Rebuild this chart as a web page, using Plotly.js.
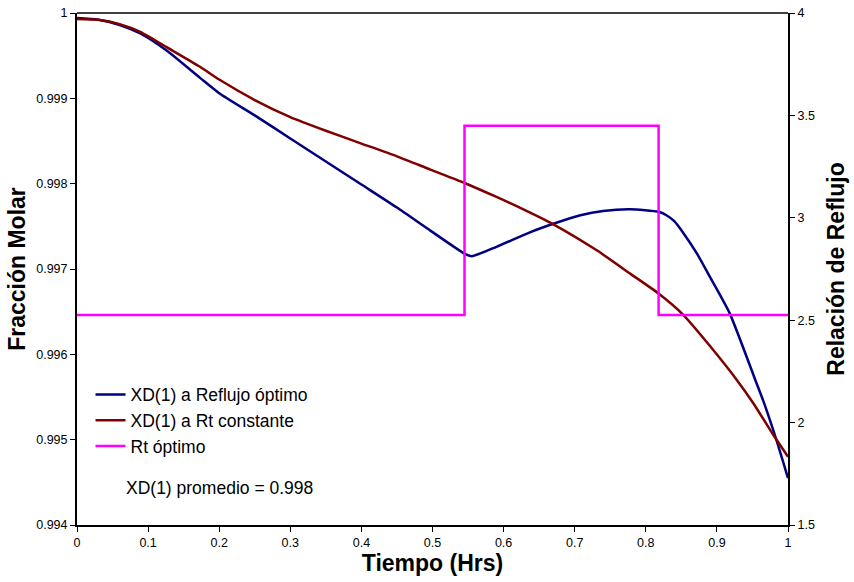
<!DOCTYPE html>
<html>
<head>
<meta charset="utf-8">
<script src="https://cdn.plot.ly/plotly-3.0.1.min.js"></script>
<style>html,body{margin:0;padding:0;background:#fff;}#chart{width:854px;height:582px;}</style>
</head>
<body>
<div id="chart"></div>
<script>
// XD(1) a Reflujo óptimo
var xOpt = [0, 0.03, 0.06, 0.089, 0.126, 0.173, 0.2, 0.25, 0.3, 0.35, 0.4, 0.45, 0.497, 0.545, 0.555, 0.59, 0.637, 0.67, 0.708, 0.74, 0.778, 0.818, 0.829, 0.84, 0.853, 0.872, 0.89, 0.918, 0.954, 0.965, 0.984, 1];
var yOpt = [0.99994, 0.99992, 0.99986, 0.99976, 0.99956, 0.99924, 0.99906, 0.9988, 0.99853, 0.99826, 0.99799, 0.99772, 0.99745, 0.99718, 0.99715, 0.99726, 0.99743, 0.99753, 0.99763, 0.99768, 0.9977, 0.99767, 0.99763, 0.99756, 0.99742, 0.99718, 0.99691, 0.99648, 0.9957, 0.99546, 0.99499, 0.99455];
// XD(1) a Rt constante
var xCons = [0, 0.03, 0.06, 0.089, 0.126, 0.173, 0.2, 0.25, 0.3, 0.35, 0.4, 0.45, 0.497, 0.545, 0.59, 0.63, 0.67, 0.731, 0.778, 0.818, 0.853, 0.89, 0.928, 0.951, 0.979, 1];
var yCons = [0.99993, 0.99992, 0.99987, 0.99978, 0.9996, 0.99937, 0.99922, 0.99898, 0.99878, 0.99862, 0.99847, 0.99832, 0.998165, 0.998008, 0.997844, 0.99769, 0.997524, 0.997219, 0.996946, 0.996712, 0.99646, 0.9961, 0.9957, 0.99543, 0.99506, 0.9948];
// Rt óptimo (step)
var xRt = [0, 0.545, 0.545, 0.818, 0.818, 1];
var yRt = [2.525, 2.525, 3.45, 3.45, 2.525, 2.525];

var xTickVals = [0, 0.1, 0.2, 0.3, 0.4, 0.5, 0.6, 0.7, 0.8, 0.9, 1];
var xTickText = ["0", "0.1", "0.2", "0.3", "0.4", "0.5", "0.6", "0.7", "0.8", "0.9", "1"];
var yTickVals = [0.994, 0.995, 0.996, 0.997, 0.998, 0.999, 1];
var yTickText = ["0.994", "0.995", "0.996", "0.997", "0.998", "0.999", "1"];
var y2TickVals = [1.5, 2, 2.5, 3, 3.5, 4];
var y2TickText = ["1.5", "2", "2.5", "3", "3.5", "4"];

var FONT = "Liberation Sans, Arial, sans-serif";

var traces = [
  {x: xOpt, y: yOpt, type: "scatter", mode: "lines", name: "XD(1) a Reflujo óptimo",
   line: {color: "#000080", width: 2.5, shape: "spline", smoothing: 0.6}},
  {x: xCons, y: yCons, type: "scatter", mode: "lines", name: "XD(1) a Rt constante",
   line: {color: "#800000", width: 2.5, shape: "spline", smoothing: 0.6}},
  {x: xRt, y: yRt, type: "scatter", mode: "lines", name: "Rt óptimo", yaxis: "y2",
   line: {color: "#FF00FF", width: 2.5}}
];

var layout = {
  width: 854, height: 582,
  margin: {l: 77, r: 66, t: 13, b: 57},
  paper_bgcolor: "#fff", plot_bgcolor: "#fff",
  font: {family: FONT, color: "#000"},
  showlegend: true,
  legend: {x: 0.019, y: 0.29, xanchor: "left", yanchor: "top", bgcolor: "rgba(0,0,0,0)",
           font: {family: FONT, size: 17.5, color: "#000"}, tracegroupgap: 0},
  xaxis: {range: [0, 1], tickvals: xTickVals, ticktext: xTickText, showgrid: false, zeroline: false,
          showline: true, linecolor: "#000", linewidth: 2, ticks: "outside", ticklen: 5, tickwidth: 1, tickcolor: "#000",
          tickfont: {size: 12.5, family: FONT},
          title: {text: "<b>Tiempo (Hrs)</b>", font: {size: 23, family: FONT}, standoff: 3}},
  yaxis: {range: [0.994, 1], tickvals: yTickVals, ticktext: yTickText, showgrid: false, zeroline: false,
          showline: true, linecolor: "#000", linewidth: 2, ticks: "outside", ticklen: 5, tickwidth: 1, tickcolor: "#000",
          tickfont: {size: 12.5, family: FONT},
          title: {text: "<b>Fracción Molar</b>", font: {size: 23, family: FONT}, standoff: 4}},
  yaxis2: {range: [1.5, 4], overlaying: "y", side: "right", tickvals: y2TickVals, ticktext: y2TickText,
          showgrid: false, zeroline: false,
          showline: true, linecolor: "#000", linewidth: 2, ticks: "outside", ticklen: 5, tickwidth: 1, tickcolor: "#000",
          tickfont: {size: 12.5, family: FONT},
          title: {text: "<b>Relación de Reflujo</b>", font: {size: 23, family: FONT}, standoff: 14}},
  shapes: [
    {type: "line", xref: "paper", yref: "paper", x0: 0, x1: 1, y0: 1, y1: 1, line: {color: "#000", width: 1.3}}
  ],
  annotations: [
    {xref: "paper", yref: "paper", x: 0.066, y: 0.072, xanchor: "left", yanchor: "middle",
     text: "XD(1) promedio = 0.998", showarrow: false, font: {size: 17.5, family: FONT, color: "#000"}}
  ]
};

Plotly.newPlot("chart", traces, layout, {displayModeBar: false, staticPlot: true});
</script>
</body>
</html>
